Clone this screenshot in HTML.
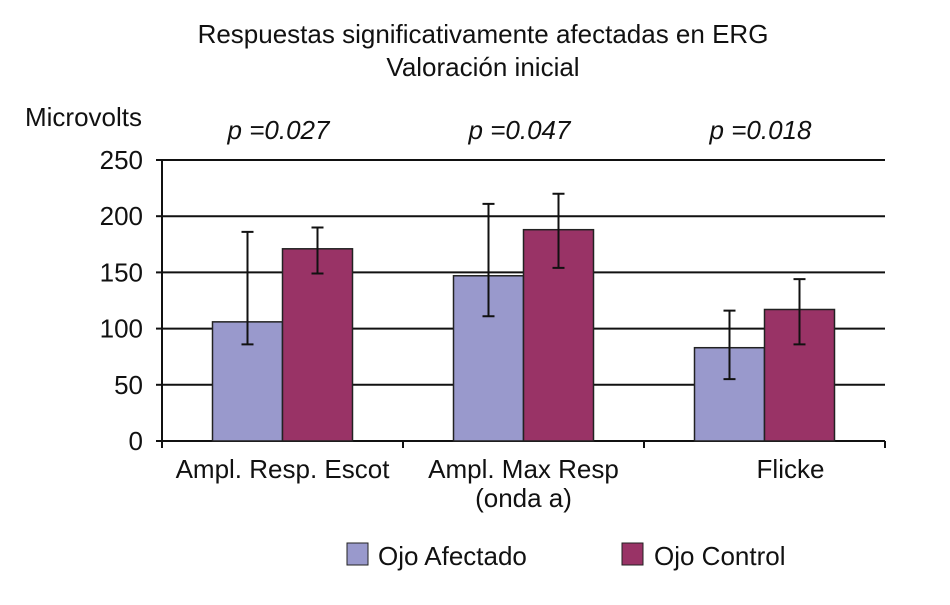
<!DOCTYPE html>
<html><head><meta charset="utf-8"><style>
body{margin:0;background:#fff;}
svg text{font-family:"Liberation Sans Narrow","Liberation Sans",sans-serif;fill:#111;}
</style></head><body>
<svg width="950" height="600" viewBox="0 0 950 600">
<text x="483" y="43" font-size="26" text-anchor="middle">Respuestas significativamente afectadas en ERG</text>
<text x="483" y="76" font-size="26" text-anchor="middle">Valoración inicial</text>
<text x="25" y="126" font-size="26">Microvolts</text>
<g id="grid"></g><g id="bars"></g><g id="labels"></g>
<g>
<rect x="347" y="543" width="21" height="22" fill="#9999cc" stroke="#222"/>
<text x="378" y="565" font-size="26">Ojo Afectado</text>
<rect x="622" y="543" width="21" height="22" fill="#993366" stroke="#222"/>
<text x="654" y="565" font-size="26">Ojo Control</text>
</g>
</svg>
<script>
const categories=[["Ampl. Resp. Escot"],["Ampl. Max Resp","(onda a)"],["Flicke"]];
const pValues=["p =0.027","p =0.047","p =0.018"];
const afectado=[106,147,83];
const afectadoHi=[186,211,116];
const afectadoLo=[86,111,55];
const control=[171,188,117];
const controlHi=[190,220,144];
const controlLo=[149,154,86];
const yTicks=[0,50,100,150,200,250];
const NS="http://www.w3.org/2000/svg";
const X0=162,X1=885,Y0=441,Y1=160,YMAX=250;
const y=v=>Y0-(v/YMAX)*(Y0-Y1);
const bw=(X1-X0)/categories.length;
function mk(tag,attrs,parent){const e=document.createElementNS(NS,tag);for(const k in attrs)e.setAttribute(k,attrs[k]);document.getElementById(parent).appendChild(e);return e;}
yTicks.forEach(t=>{
  if(t>0){const l=mk('line',{x1:X0,x2:X1,y1:y(t),y2:y(t),stroke:'#111','stroke-width':2},'grid');
  
  }
  const tk=mk('line',{x1:X0-6,x2:X0,y1:y(t),y2:y(t),stroke:'#111','stroke-width':2},'grid');
  
  
  const tx=mk('text',{x:143,y:y(t)+9,'font-size':26,'text-anchor':'end'},'labels');tx.textContent=t;
  
  
});
const ax=mk('line',{x1:X0,x2:X0,y1:Y1,y2:Y0,stroke:'#111','stroke-width':2},'grid');


const xa=mk('line',{x1:X0,x2:X1,y1:Y0,y2:Y0,stroke:'#111','stroke-width':2},'grid');


for(let i=0;i<=categories.length;i++){const t=mk('line',{x1:X0+i*bw,x2:X0+i*bw,y1:Y0,y2:Y0+7,stroke:'#111','stroke-width':2},'grid');

}
const BW=70;
function bar(cx,v,hi,lo,col,name){
  const r=mk('rect',{x:cx-BW/2,y:y(v),width:BW,height:Y0-y(v),fill:col,stroke:'#222','stroke-width':1.5},'bars');
  
  
  const e=mk('path',{d:`M${cx} ${y(hi)}V${y(lo)}M${cx-6} ${y(hi)}H${cx+6}M${cx-6} ${y(lo)}H${cx+6}`,stroke:'#111','stroke-width':2,fill:'none'},'bars');
  
  
}
categories.forEach((c,i)=>{
  const cx=X0+bw*(i+0.5);
  bar(cx-35,afectado[i],afectadoHi[i],afectadoLo[i],'#9999cc','bar-afectado-'+i);
  bar(cx+35,control[i],controlHi[i],controlLo[i],'#993366','bar-control-'+i);
  c.forEach((ln,j)=>{const t=mk('text',{x:cx+(i==2?26:0),y:478+j*29,'font-size':26,'text-anchor':'middle'},'labels');t.textContent=ln;
  
  });
  const p=mk('text',{x:cx-4,y:139,'font-size':26,'text-anchor':'middle','font-style':'italic'},'labels');p.textContent=pValues[i];
  
  
});
</script>
</body></html>
